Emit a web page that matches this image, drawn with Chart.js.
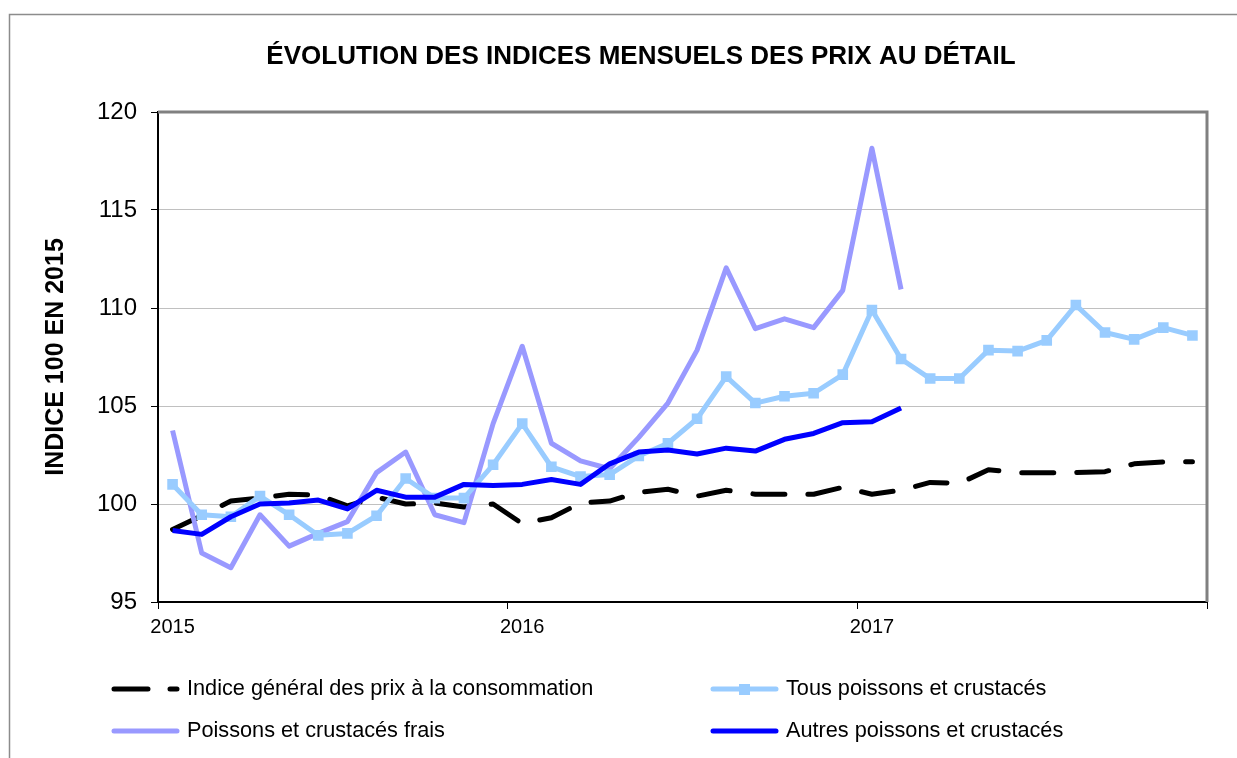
<!DOCTYPE html>
<html>
<head>
<meta charset="utf-8">
<script src="https://cdn.jsdelivr.net/npm/chart.js@4.4.1/dist/chart.umd.min.js"></script>
<style>
  html, body { margin: 0; padding: 0; background: #fff; }
  #wrap { width: 1237px; height: 758px; }
</style>
</head>
<body>
<div id="wrap"><canvas id="prixChart" width="1237" height="758"></canvas></div>
<script>
// mois de janvier 2015 à décembre 2017
const mois = [
  '2015-01', '2015-02', '2015-03', '2015-04', '2015-05', '2015-06',
  '2015-07', '2015-08', '2015-09', '2015-10', '2015-11', '2015-12',
  '2016-01', '2016-02', '2016-03', '2016-04', '2016-05', '2016-06',
  '2016-07', '2016-08', '2016-09', '2016-10', '2016-11', '2016-12',
  '2017-01', '2017-02', '2017-03', '2017-04', '2017-05', '2017-06',
  '2017-07', '2017-08', '2017-09', '2017-10', '2017-11', '2017-12'
];
const annees = ['2015', '2016', '2017'];

const indiceGeneral = [
  98.7, 99.4, 100.15, 100.3, 100.5, 100.45, 99.9, 100.35, 100.0, 100.05, 99.85, 100.0,
  99.0, 99.3, 100.05, 100.15, 100.6, 100.75, 100.4, 100.7, 100.5, 100.5, 100.5, 100.85,
  100.5, 100.7, 101.1, 101.05, 101.75, 101.6, 101.6, 101.6, 101.65, 102.05, 102.15, 102.15
];
const tousPoissons = [
  101.0, 99.45, 99.35, 100.4, 99.45, 98.4, 98.5, 99.4, 101.3, 100.3, 100.3, 102.0,
  104.1, 101.9, 101.4, 101.5, 102.45, 103.1, 104.35, 106.5, 105.15, 105.5, 105.65, 106.6,
  109.9, 107.4, 106.4, 106.4, 107.85, 107.8, 108.35, 110.15, 108.75, 108.4, 109.0, 108.6
];
const poissonsFrais = [
  103.75, 97.5, 96.75, 99.45, 97.85, 98.5, 99.1, 101.6, 102.65, 99.45, 99.05, 104.1,
  108.05, 103.1, 102.2, 101.8, 103.4, 105.15, 107.85, 112.05, 108.95, 109.45, 109.0, 110.9,
  118.15, 110.95, null, null, null, null, null, null, null, null, null, null
];
const autresPoissons = [
  98.65, 98.45, 99.35, 100.0, 100.05, 100.2, 99.75, 100.7, 100.35, 100.35, 101.0, 100.95,
  101.0, 101.25, 101.0, 102.05, 102.65, 102.75, 102.55, 102.85, 102.7, 103.3, 103.6, 104.15,
  104.2, 104.9, null, null, null, null, null, null, null, null, null, null
];

const police = '"Liberation Sans", Arial, sans-serif';
Chart.defaults.font.family = police;
Chart.defaults.color = '#000';

// cadre, titre, bordure du tracé et légende sur deux colonnes
const decorPlugin = {
  id: 'decor',
  beforeDraw(chart) {
    const ctx = chart.ctx;
    ctx.save();
    ctx.strokeStyle = '#8c8c8c';
    ctx.lineWidth = 1.5;
    ctx.strokeRect(9.5, 14.5, 1400, 1000);
    ctx.restore();
  },
  beforeDatasetsDraw(chart) {
    const ctx = chart.ctx;
    const a = chart.chartArea;
    ctx.save();
    ctx.strokeStyle = '#808080';
    ctx.lineWidth = 3;
    ctx.beginPath();
    ctx.moveTo(a.left, a.top);
    ctx.lineTo(a.right, a.top);
    ctx.lineTo(a.right, a.bottom);
    ctx.stroke();
    ctx.strokeStyle = '#000';
    ctx.lineWidth = 1;
    ctx.beginPath();
    ctx.moveTo(a.right + 0.5, a.bottom);
    ctx.lineTo(a.right + 0.5, a.bottom + 7);
    ctx.stroke();
    ctx.restore();
  },
  afterDraw(chart) {
    const ctx = chart.ctx;
    ctx.save();
    ctx.fillStyle = '#000';
    ctx.font = 'bold 26px ' + police;
    ctx.textAlign = 'center';
    ctx.textBaseline = 'middle';
    ctx.fillText('ÉVOLUTION DES INDICES MENSUELS DES PRIX AU DÉTAIL', 641, 57);

    const positions = [[112, 689], [711, 689], [112, 731], [711, 731]];
    ctx.font = '21.7px ' + police;
    ctx.textAlign = 'left';
    chart.data.datasets.forEach((ds, i) => {
      const [x, y] = positions[i];
      ctx.strokeStyle = ds.borderColor;
      ctx.lineWidth = ds.borderWidth;
      ctx.lineCap = 'round';
      ctx.setLineDash(ds.borderDash ? [34, 22] : []);
      ctx.beginPath();
      ctx.moveTo(x + 2, y);
      ctx.lineTo(x + 65, y);
      ctx.stroke();
      ctx.setLineDash([]);
      if (ds.pointRadius > 0) {
        ctx.fillStyle = ds.pointBackgroundColor;
        ctx.fillRect(x + 28, y - 5, 11, 11);
      }
      ctx.fillStyle = '#000';
      ctx.fillText(ds.label, x + 75, y);
    });
    ctx.restore();
  }
};

new Chart(document.getElementById('prixChart'), {
  type: 'line',
  data: {
    labels: mois,
    datasets: [
      {
        label: 'Indice général des prix à la consommation',
        data: indiceGeneral,
        borderColor: '#000000',
        borderWidth: 5,
        borderDash: [32, 23],
        borderCapStyle: 'round',
        pointRadius: 0,
        order: 4,
      },
      {
        label: 'Tous poissons et crustacés',
        data: tousPoissons,
        borderColor: '#99ccff',
        borderWidth: 5,
        pointStyle: 'rect',
        pointRadius: 7.5,
        pointBorderWidth: 0,
        pointBackgroundColor: '#99ccff',
        order: 2,
      },
      {
        label: 'Poissons et crustacés frais',
        data: poissonsFrais,
        borderColor: '#9999ff',
        borderWidth: 5,
        pointRadius: 0,
        order: 3,
      },
      {
        label: 'Autres poissons et crustacés',
        data: autresPoissons,
        borderColor: '#0000ff',
        borderWidth: 5,
        pointRadius: 0,
        order: 1,
      },
    ],
  },
  options: {
    responsive: false,
    animation: false,
    layout: { padding: { left: 20, top: 112, right: 30, bottom: 116 } },
    plugins: {
      legend: { display: false },
      title: { display: false },
      tooltip: { enabled: false },
    },
    elements: { line: { tension: 0, borderJoinStyle: 'round' } },
    scales: {
      x: {
        offset: true,
        afterFit(scale) { scale.height = 40; },
        border: { color: '#000', width: 2 },
        grid: {
          offset: true,
          drawOnChartArea: false,
          tickLength: 7,
          color: (c) => (c.index % 12 === 0 ? '#000' : 'rgba(0,0,0,0)'),
        },
        ticks: {
          autoSkip: false,
          maxRotation: 0,
          padding: 6,
          font: { size: 20 },
          callback: (v, i) => (i % 12 === 0 ? annees[i / 12] : ''),
        },
      },
      y: {
        min: 95,
        max: 120,
        afterFit(scale) { scale.width = 138; },
        border: { color: '#000', width: 2 },
        grid: {
          color: (c) => (c.tick && c.tick.value === 120 ? 'rgba(0,0,0,0)' : '#c0c0c0'),
          tickColor: '#000',
          tickLength: 7,
        },
        ticks: {
          stepSize: 5,
          padding: 14,
          font: { size: 24 },
        },
        title: {
          display: true,
          text: 'INDICE 100 EN 2015',
          font: { size: 25, weight: 'bold' },
          padding: { top: 21, bottom: 0 },
        },
      },
    },
  },
  plugins: [decorPlugin],
});
</script>
</body>
</html>
